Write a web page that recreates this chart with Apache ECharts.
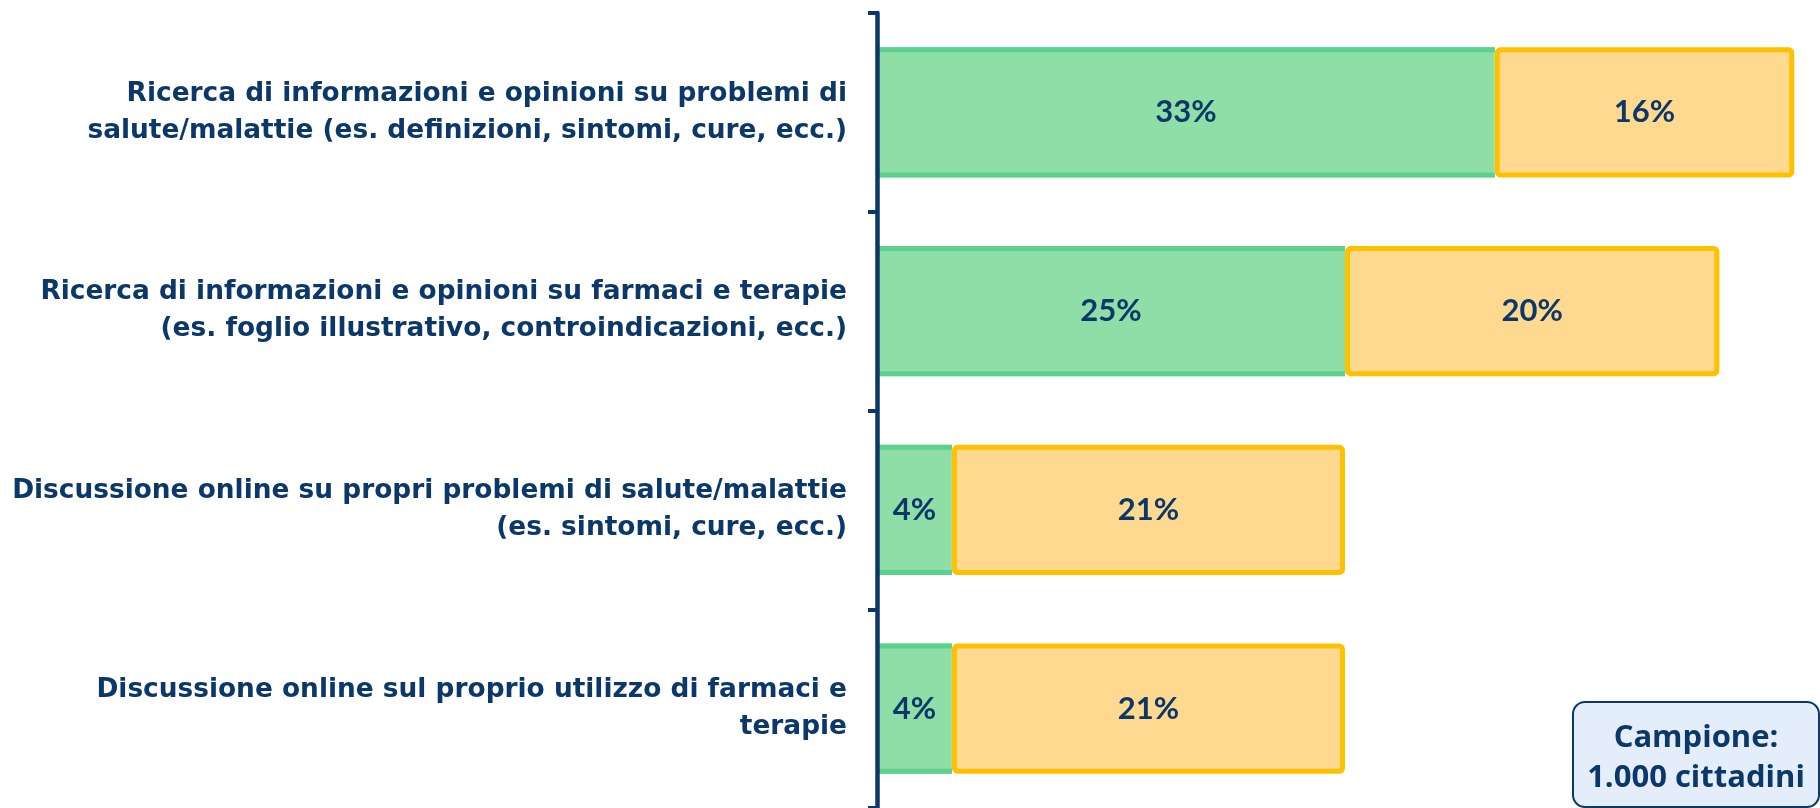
<!DOCTYPE html>
<html>
<head>
<meta charset="utf-8">
<script src="https://cdn.jsdelivr.net/npm/echarts@6/dist/echarts.min.js"></script>
<style>
  html, body { margin: 0; padding: 0; background: #fff; }
  #main { width: 1820px; height: 808px; }
</style>
</head>
<body>
<div id="main"></div>
<script>
var categories = [
    'Ricerca di informazioni e opinioni su problemi di\nsalute/malattie (es. definizioni, sintomi, cure, ecc.)',
    'Ricerca di informazioni e opinioni su farmaci e terapie\n(es. foglio illustrativo, controindicazioni, ecc.)',
    'Discussione online su propri problemi di salute/malattie\n(es. sintomi, cure, ecc.)',
    'Discussione online sul proprio utilizzo di farmaci e\nterapie'
];
var greenValues = [33, 25, 4, 4];
var orangeValues = [16, 20, 21, 21];

var navy = '#0b3769';
var BW = 5; // spessore bordo
var BAR = 0.655; // altezza barra rispetto alla banda

// [categoria, inizio, fine] per le barre impilate
var greenData = greenValues.map(function (v, i) { return [i, 0, v]; });
var orangeData = orangeValues.map(function (v, i) { return [i, greenValues[i], greenValues[i] + v]; });

function pctText(x, y, val) {
    return {
        type: 'text',
        x: x, y: y,
        z2: 10,
        style: {
            text: val + '%',
            align: 'center',
            verticalAlign: 'middle',
            fill: navy,
            font: 'bold 31px Lato'
        }
    };
}

function renderGreen(params, api) {
    var p0 = api.coord([api.value(1), api.value(0)]);
    var p1 = api.coord([api.value(2), api.value(0)]);
    var h = api.size([0, 1])[1] * BAR;
    var top = p0[1] - h / 2;
    var w = p1[0] - p0[0];
    return {
        type: 'group',
        children: [
            { type: 'rect', shape: { x: p0[0], y: top, width: w, height: h }, style: { fill: '#8fdea7' } },
            { type: 'rect', shape: { x: p0[0], y: top, width: w, height: BW }, style: { fill: '#5bd08f' } },
            { type: 'rect', shape: { x: p0[0], y: top + h - BW, width: w, height: BW }, style: { fill: '#5bd08f' } },
            pctText(p0[0] + w / 2, p0[1], api.value(2) - api.value(1))
        ]
    };
}

function renderOrange(params, api) {
    var p0 = api.coord([api.value(1), api.value(0)]);
    var p1 = api.coord([api.value(2), api.value(0)]);
    var h = api.size([0, 1])[1] * BAR;
    var top = p0[1] - h / 2;
    var w = p1[0] - p0[0];
    return {
        type: 'group',
        children: [
            {
                type: 'rect',
                shape: { x: p0[0] + BW / 2, y: top + BW / 2, width: w - BW, height: h - BW, r: 3 },
                style: { fill: '#fed98f', stroke: '#ffc000', lineWidth: BW }
            },
            pctText(p0[0] + w / 2, p0[1], api.value(2) - api.value(1))
        ]
    };
}

var option = {
    animation: false,
    grid: { left: 877, right: 7, top: 13, bottom: 0 },
    xAxis: {
        type: 'value',
        min: 0,
        max: 50,
        show: false
    },
    yAxis: {
        type: 'category',
        inverse: true,
        data: categories,
        z: 5,
        axisLine: { show: true, lineStyle: { color: navy, width: 4.5 } },
        axisTick: { show: true, length: 9, lineStyle: { color: navy, width: 4 } },
        axisLabel: {
            margin: 30,
            color: navy,
            fontFamily: 'DejaVu Sans',
            fontWeight: 'bold',
            fontSize: 26.4,
            lineHeight: 37,
            align: 'right'
        }
    },
    series: [
        {
            type: 'custom',
            renderItem: renderGreen,
            encode: { x: [1, 2], y: 0 },
            data: greenData
        },
        {
            type: 'custom',
            renderItem: renderOrange,
            encode: { x: [1, 2], y: 0 },
            data: orangeData
        }
    ],
    graphic: [{
        type: 'group',
        left: 1572,
        top: 701,
        children: [{
            type: 'rect',
            shape: { x: 0, y: 0, width: 246, height: 105, r: 12 },
            style: { fill: '#e4eefb', stroke: navy, lineWidth: 2 }
        }, {
            type: 'text',
            x: 123,
            y: 56,
            style: {
                text: 'Campione:\n1.000 cittadini',
                align: 'center',
                verticalAlign: 'middle',
                fill: navy,
                font: 'bold 31px "Open Sans"',
                lineHeight: 40
            }
        }]
    }]
};

echarts.init(document.getElementById('main')).setOption(option);
</script>
</body>
</html>
